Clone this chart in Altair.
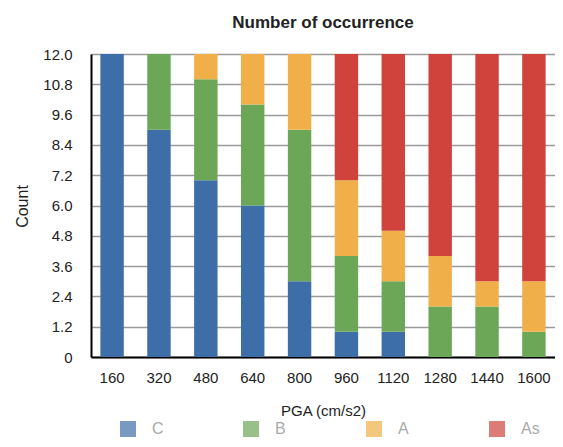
import altair as alt
import pandas as pd

categories = ["160", "320", "480", "640", "800", "960", "1120", "1280", "1440", "1600"]
series = ["C", "B", "A", "As"]
colors = ["#3D6EA8", "#6BA756", "#F0AF48", "#CF433C"]
C_vals = [12, 9, 7, 6, 3, 1, 1, 0, 0, 0]
B_vals = [0, 3, 4, 4, 6, 3, 2, 2, 2, 1]
A_vals = [0, 0, 1, 2, 3, 3, 2, 2, 1, 2]
As_vals = [0, 0, 0, 0, 0, 5, 7, 8, 9, 9]
y_ticks = [0, 1.2, 2.4, 3.6, 4.8, 6.0, 7.2, 8.4, 9.6, 10.8, 12.0]

rows = []
for name, vals in zip(series, [C_vals, B_vals, A_vals, As_vals]):
    for cat, v in zip(categories, vals):
        rows.append({"PGA": cat, "Class": name, "Count": v, "idx": series.index(name)})
df = pd.DataFrame(rows)

chart = alt.Chart(df).mark_bar().encode(
    x=alt.X("PGA:N", sort=categories,
            scale=alt.Scale(paddingInner=0.5, paddingOuter=0.2),
            axis=alt.Axis(title="PGA (cm/s2)", labelAngle=0, labelFontSize=15,
                          labelColor="#222", labelPadding=13, tickSize=0,
                          domainColor="#000", domainWidth=2, grid=False,
                          titleFontSize=15, titleFontWeight="normal", titleColor="#222",
                          titleY=53, titleBaseline="middle")),
    y=alt.Y("Count:Q", stack="zero",
            scale=alt.Scale(domain=[0, 12], nice=False),
            axis=alt.Axis(title="Count", values=y_ticks,
                          labelExpr="datum.value == 0 ? '0' : format(datum.value, '.1f')",
                          labelFontSize=15, labelColor="#222", labelPadding=19, tickSize=0,
                          domainColor="#000", domainWidth=2,
                          gridColor="#9a9a9a", gridWidth=1.5,
                          titleFontSize=16, titleFontWeight="normal", titleColor="#222",
                          titleX=-69, titleY=152, titleAngle=270, titleBaseline="middle",
                          titleAlign="center")),
    color=alt.Color("Class:N", scale=alt.Scale(domain=series, range=colors),
                    legend=alt.Legend(title=None, orient="none", legendX=29, legendY=367,
                                      direction="horizontal", columns=4, gridAlign="all",
                                      columnPadding=72, symbolType="square", symbolSize=256,
                                      symbolStrokeWidth=0, symbolOpacity=0.7,
                                      labelOffset=16, labelFontSize=16, labelColor="#aaaaaa",
                                      padding=0)),
    order=alt.Order("idx:Q"),
).properties(
    width=464,
    height=303,
    title=alt.TitleParams("Number of occurrence", fontSize=17, fontWeight="bold",
                          color="#222", offset=15, anchor="middle"),
    autosize=alt.AutoSizeParams(type="none"),
    padding={"left": 83, "top": 46, "right": 0, "bottom": 82},
).configure_view(stroke=None).configure(font="Liberation Sans")

chart.save("out.html", embed_options={"renderer": "svg", "actions": False})
